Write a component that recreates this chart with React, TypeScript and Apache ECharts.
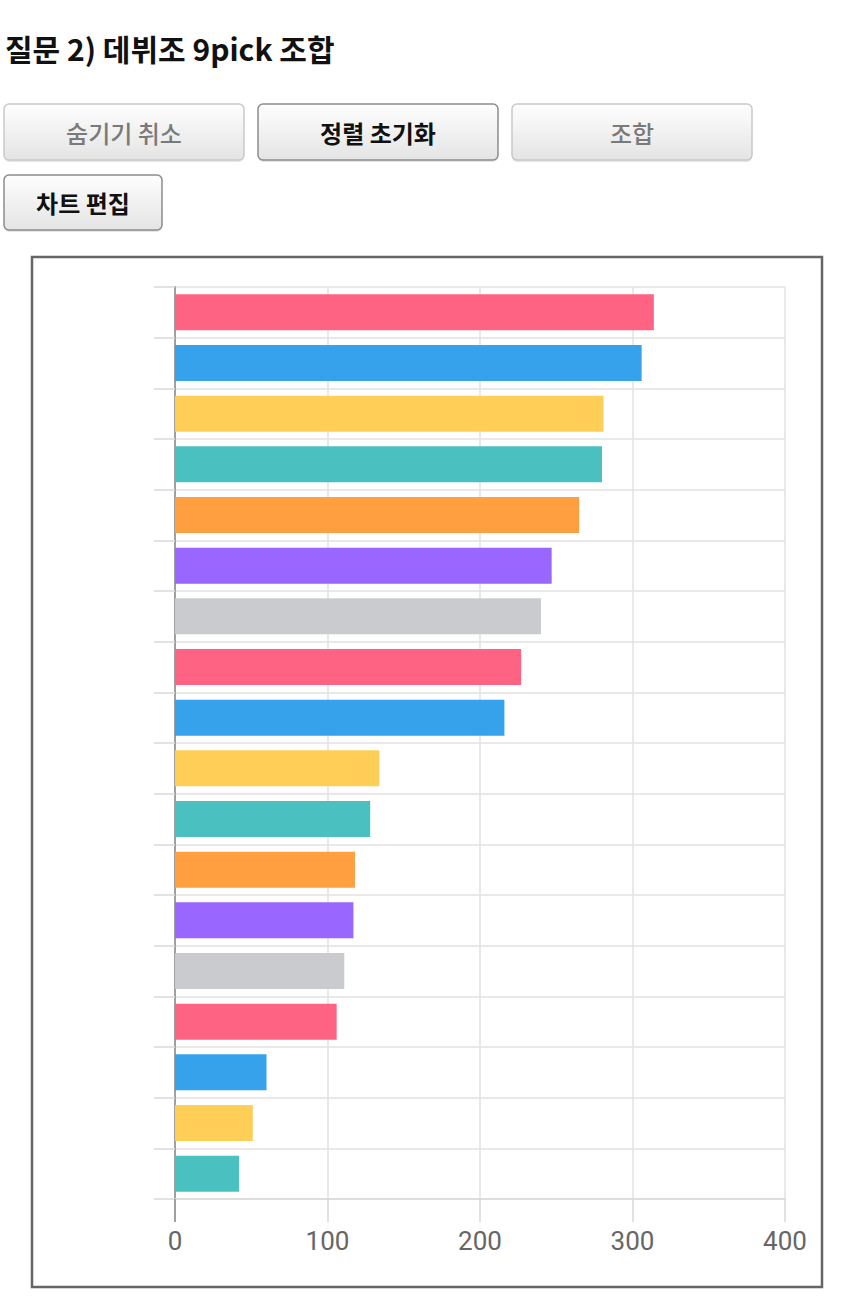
import React, { useEffect, useRef } from "react";
import * as echarts from "echarts";

const categories = [
  "조합 1", "조합 2", "조합 3", "조합 4", "조합 5", "조합 6",
  "조합 7", "조합 8", "조합 9", "조합 10", "조합 11", "조합 12",
  "조합 13", "조합 14", "조합 15", "조합 16", "조합 17", "조합 18",
];
const values = [314, 306, 281, 280, 265, 247, 240, 227, 216, 134, 128, 118, 117, 111, 106, 60, 51, 42];
const palette = ["#FF6384", "#36A2EB", "#FFCE56", "#4BC0C0", "#FF9F40", "#9966FF", "#C9CBCF"];
const xTicks = { min: 0, max: 400, interval: 100 };
const titleText = "질문 2) 데뷔조 9pick 조합";
const buttons = [
  { label: "숨기기 취소", x: 4, y: 104, w: 240, h: 56, active: false },
  { label: "정렬 초기화", x: 258, y: 104, w: 240, h: 56, active: true },
  { label: "조합", x: 512, y: 104, w: 240, h: 56, active: false },
  { label: "차트 편집", x: 4, y: 175, w: 158, h: 55, active: true },
];

const KR = '"Noto Sans CJK KR", "Noto Sans", sans-serif';

export default function App() {
  const ref = useRef<HTMLDivElement>(null);
  useEffect(() => {
    if (!ref.current) return;
    const chart = echarts.init(ref.current, undefined, { renderer: "svg" });
    const btnGraphics: any[] = [];
    buttons.forEach((b) => {
      btnGraphics.push({
        type: "rect",
        shape: { x: b.x, y: b.y + 2, width: b.w, height: b.h, r: 5 },
        style: { fill: "rgba(0,0,0,0.10)" },
        silent: true,
      });
      btnGraphics.push({
        type: "rect",
        shape: { x: b.x, y: b.y, width: b.w, height: b.h, r: 5 },
        style: {
          fill: new echarts.graphic.LinearGradient(0, 0, 0, 1, [
            { offset: 0, color: "#fefefe" },
            { offset: 1, color: "#e4e4e4" },
          ]),
          stroke: b.active ? "#8c8c8c" : "#c9c9c9",
          lineWidth: 1.5,
        },
        silent: true,
      });
      btnGraphics.push({
        type: "text",
        x: b.x + b.w / 2,
        y: b.y + b.h / 2,
        style: {
          text: b.label,
          fontSize: 24,
          fontFamily: KR,
          fontWeight: b.active ? "bold" : "500",
          fill: b.active ? "#111" : "#7a7a7a",
          align: "center",
          verticalAlign: "middle",
          textAlign: "center",
          textVerticalAlign: "middle",
        },
        silent: true,
      });
    });

    chart.setOption({
      animation: false,
      backgroundColor: "#ffffff",
      grid: { left: 175, right: 65, top: 287, bottom: 111, containLabel: false },
      xAxis: {
        type: "value",
        min: xTicks.min,
        max: xTicks.max,
        interval: xTicks.interval,
        axisLine: { show: true, lineStyle: { color: "#d9d9d9", width: 1.5 } },
        axisTick: { show: true, length: 23, lineStyle: { color: "#d9d9d9", width: 1.5 } },
        splitLine: { show: true, lineStyle: { color: "#e2e2e2", width: 1.5 } },
        axisLabel: {
          color: "#666",
          fontSize: 26,
          margin: 29,
          fontFamily: '"Roboto", sans-serif',
        },
      },
      yAxis: {
        type: "category",
        data: categories,
        inverse: true,
        axisLine: { show: true, lineStyle: { color: "#a0a0a0", width: 2 } },
        axisTick: { show: true, length: 21, lineStyle: { color: "#d9d9d9", width: 1.5 } },
        splitLine: { show: true, lineStyle: { color: "#e2e2e2", width: 1.5 } },
        axisLabel: { show: false },
      },
      series: [
        {
          type: "bar",
          barWidth: 36,
          data: values.map((v, i) => ({
            value: v,
            itemStyle: { color: palette[i % palette.length] },
          })),
        },
      ],
      graphic: [
        {
          type: "text",
          x: 5,
          y: 48,
          style: {
            text: titleText,
            fontSize: 30,
            fontWeight: "bold",
            fontFamily: KR,
            fill: "#111",
            align: "left",
            verticalAlign: "middle",
            textAlign: "left",
            textVerticalAlign: "middle",
          },
          silent: true,
        },
        ...btnGraphics,
        {
          type: "line",
          shape: { x1: 175, y1: 1199, x2: 175, y2: 1222 },
          style: { stroke: "#a0a0a0", lineWidth: 2 },
          silent: true,
          z: 50,
        },
        {
          type: "rect",
          shape: { x: 32, y: 257, width: 790, height: 1030 },
          style: { fill: "none", stroke: "#666", lineWidth: 2.5 },
          silent: true,
          z: 100,
        },
      ],
    });
    return () => chart.dispose();
  }, []);
  return (
    <div
      ref={ref}
      style={{ position: "absolute", left: 0, top: 0, width: 850, height: 1310 }}
    />
  );
}
